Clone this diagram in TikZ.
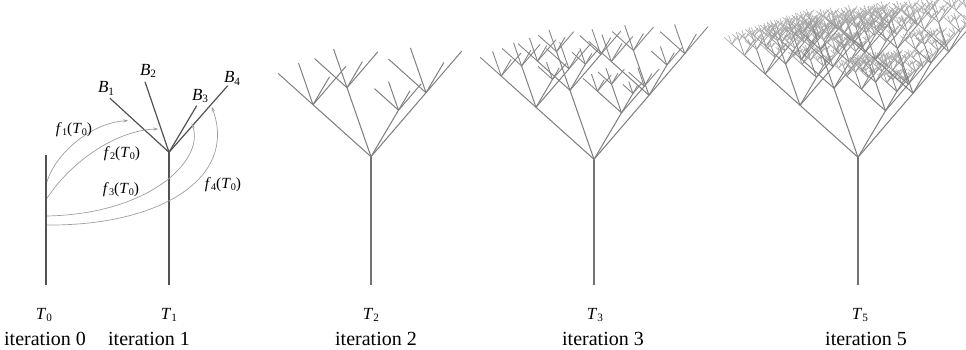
\documentclass[tikz,border=0pt]{standalone}
\usepackage{fontspec}
\setmainfont{Liberation Serif}
\newfontfamily\serifx{Liberation Serif}
\usepackage{graphicx}
\usetikzlibrary{arrows.meta}

\newcommand\sbs[1]{\raisebox{-0.3ex}{\scalebox{0.66}{\upshape #1}}}
\newcommand\itl[2]{\textit{#1}\sbs{#2}}

\tikzset{
  stem/.style={draw=black!68, line width=1.2pt},
  lvl0/.style={draw=black!55, line width=1.3pt},
  lvl1/.style={draw=black!50, line width=1.05pt},
  lvl2/.style={draw=black!50, line width=1pt},
  lvl3/.style={draw=black!48, line width=0.9pt},
  lvl4/.style={draw=black!40, line width=0.75pt},
  lvl5/.style={draw=black!32, line width=0.65pt},
  maparc/.style={draw=black!38, line width=0.7pt, -{Stealth[length=5pt,width=3.2pt]}},
  tlabel/.style={inner sep=0pt, font=\serifx\fontsize{17}{17}\selectfont},
  blabel/.style={inner sep=0pt, font=\serifx\fontsize{17}{17}\selectfont},
  itlabel/.style={inner sep=0pt, anchor=base, font=\serifx\fontsize{20}{20}\selectfont},
  flabel/.style={inner sep=0pt, font=\serifx\fontsize{15.5}{15.5}\selectfont},
}

\makeatletter
\newcommand\fanbranch[5]{%
  \ifnum#4>0\relax
    \foreach \vx/\vy/\rr in {-58/-52/0.6, -24/-69/0.56, 27.5/-46.5/0.415, 55/-64/0.65}{%
      \pgfmathsetmacro\nx{#1+#3*\vx}%
      \pgfmathsetmacro\ny{#2+#3*\vy}%
      \pgfmathsetmacro\ns{#3*\rr}%
      \draw[lvl#5] (#1,#2) -- (\nx,\ny);%
      \edef\fan@next{\noexpand\fanbranch{\nx}{\ny}{\ns}{\the\numexpr#4-1\relax}{\the\numexpr#5+1\relax}}%
      \fan@next
    }%
  \fi}
\makeatother

\begin{document}
\begin{tikzpicture}[x=1pt,y=-1pt]
\useasboundingbox (0,0) rectangle (966,350);
\clip (0,0) rectangle (966,350);

% T0
\coordinate (T0base) at (46,285);
\coordinate (T0top) at (46,155);
\draw[stem] (T0base) -- (T0top);

% T1
\coordinate (T1base) at (169,285);
\coordinate (T1j) at (169,152.3);
\coordinate (B1t) at (110,98.3);
\coordinate (B2t) at (145,81.7);
\coordinate (B3t) at (196.7,105.7);
\coordinate (B4t) at (227.7,85.7);
\draw[stem] (T1base) -- (T1j);
\draw[stem] (T1j) -- (B1t);
\draw[stem] (T1j) -- (B2t);
\draw[stem] (T1j) -- (B3t);
\draw[stem] (T1j) -- (B4t);

\node[blabel] (lB1) at (106,88.3) {\itl{B}{1}};
\node[blabel] (lB2) at (148,71) {\itl{B}{2}};
\node[blabel] (lB3) at (200,95.7) {\itl{B}{3}};
\node[blabel] (lB4) at (232,78.3) {\itl{B}{4}};

% mapping arcs
\coordinate (s1) at (47,181.7);
\coordinate (s2) at (47,198.3);
\coordinate (s3) at (47,216);
\coordinate (s4) at (47,225);
\coordinate (e1) at (128.3,120.7);
\coordinate (e2) at (158.3,129);
\coordinate (e3) at (191.7,123.3);
\coordinate (e4) at (211.7,106.7);
\draw[maparc] (s1) .. controls (57,150) and (95,122) .. (e1);
\draw[maparc] (s2) .. controls (72,160) and (118,130) .. (e2);
\draw[maparc] (s3) .. controls (150,214) and (205,160) .. (e3);
\draw[maparc] (s4) .. controls (160,226) and (238,178) .. (e4);

\node[flabel] (lf1) at (74,130) {\itl{f}{1}(\itl{T}{0})};
\node[flabel] (lf2) at (122,154) {\itl{f}{2}(\itl{T}{0})};
\node[flabel] (lf3) at (121,190) {\itl{f}{3}(\itl{T}{0})};
\node[flabel] (lf4) at (223,185) {\itl{f}{4}(\itl{T}{0})};

% T2, T3, T5
\draw[lvl0] (371,285) -- (371,156.7);
\fanbranch{371}{156.7}{1}{2}{1}
\draw[lvl0] (594,285) -- (594,159.3);
\fanbranch{594}{159.3}{1}{3}{1}
\draw[lvl0] (858,285) -- (858,157.3);
\fanbranch{858}{157.3}{1}{5}{1}

% labels
\node[tlabel] (t0) at (44,315) {\itl{T}{0}};
\node[tlabel] (t1) at (169,315) {\itl{T}{1}};
\node[tlabel] (t2) at (371,315) {\itl{T}{2}};
\node[tlabel] (t3) at (595,315) {\itl{T}{3}};
\node[tlabel] (t5) at (860,315) {\itl{T}{5}};

\node[itlabel] (i0) at (45,345.5) {iteration 0};
\node[itlabel] (i1) at (149,345.5) {iteration 1};
\node[itlabel] (i2) at (376,345.5) {iteration 2};
\node[itlabel] (i3) at (603,345.5) {iteration 3};
\node[itlabel] (i5) at (866,345.5) {iteration 5};
\end{tikzpicture}
\end{document}
